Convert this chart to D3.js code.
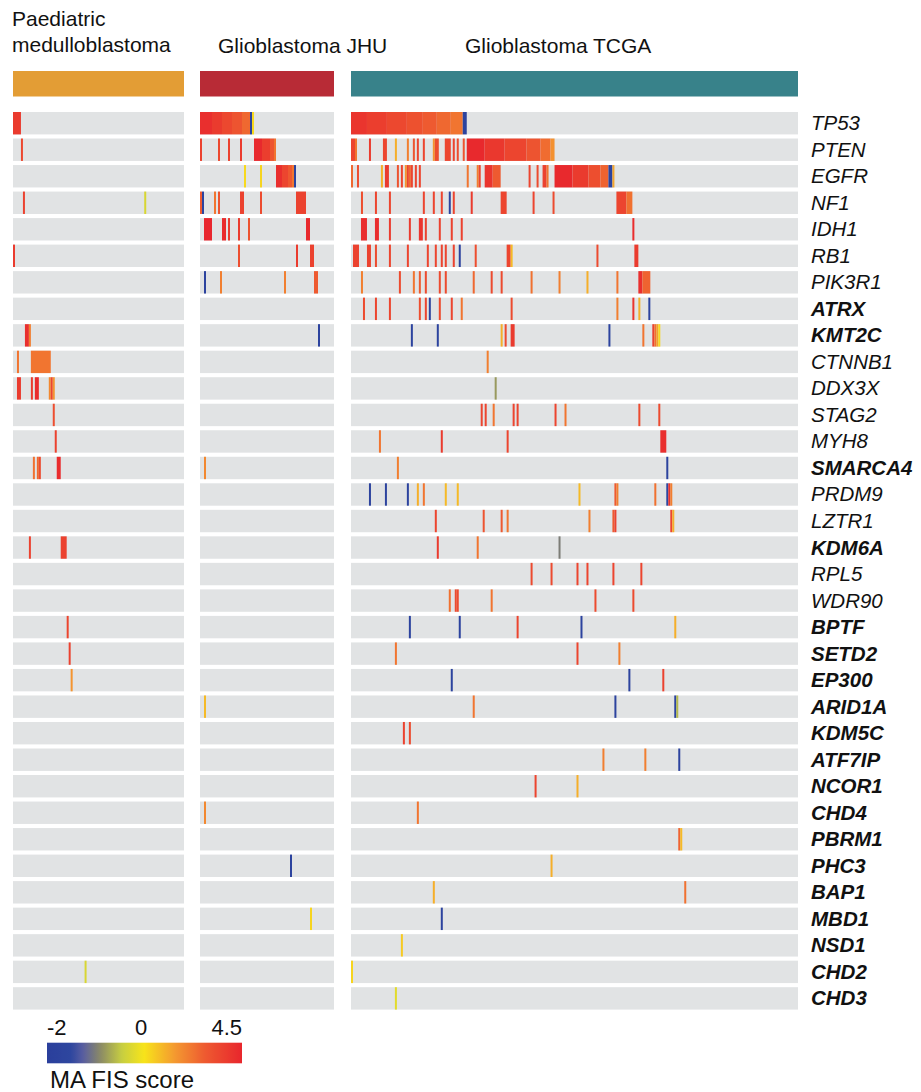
<!DOCTYPE html>
<html><head><meta charset="utf-8">
<script src="https://cdn.jsdelivr.net/npm/d3@7"></script>
<style>body{margin:0;background:#fff;} text{font-family:"Liberation Sans",Arial,Helvetica,sans-serif;}</style>
</head><body>
<svg id="chart" width="921" height="1092"></svg>
<script>
// ---------------- DATA ----------------
const genes = ["TP53","PTEN","EGFR","NF1","IDH1","RB1","PIK3R1","ATRX","KMT2C","CTNNB1","DDX3X","STAG2","MYH8","SMARCA4","PRDM9","LZTR1","KDM6A","RPL5","WDR90","BPTF","SETD2","EP300","ARID1A","KDM5C","ATF7IP","NCOR1","CHD4","PBRM1","PHC3","BAP1","MBD1","NSD1","CHD2","CHD3"];
const chromatinGenes = ["ATRX","KMT2C","SMARCA4","KDM6A","BPTF","SETD2","EP300","ARID1A","KDM5C","ATF7IP","NCOR1","CHD4","PBRM1","PHC3","BAP1","MBD1","NSD1","CHD2","CHD3"];
const cohortNames = ["Paediatric medulloblastoma","Glioblastoma JHU","Glioblastoma TCGA"];
const cohortSamples = [86, 67, 224];
const legendTicks = [-2, 0, 4.5];
const legendTitle = "MA FIS score";

// marks per gene: [firstSample, lastSample, MA FIS score]
const paedMarks = [
  [[0,3,3.8]], [[4,4,3.4]], [], [[5,5,3.6],[66,66,-0.3]], [], [[0,0,3.8]], [], [],
  [[6,7,4.2],[8,8,2.0]],
  [[2,2,2.2],[9,18,2.2]],
  [[2,3,3.8],[9,9,3.8],[11,12,4.3],[18,18,1.8],[19,19,3.5],[20,20,1.5]],
  [[20,20,3.2]], [[21,21,3.6]],
  [[10,10,2.3],[12,12,2.5],[13,13,3.3],[22,23,4.3]],
  [], [], [[8,8,3.6],[24,26,3.6]], [], [],
  [[27,27,3.5]], [[28,28,3.6]], [[29,29,1.5]],
  [], [], [], [], [], [], [], [], [], [],
  [[36,36,-0.3]], []
];
const jhuMarks = [
  [[0,5,4.2],[6,10,3.8],[11,15,3.4],[16,20,3.0],[21,24,2.5],[25,25,-1.7],[26,26,0.2]],
  [[0,0,3.6],[9,9,3.4],[14,14,3.6],[20,20,3.8],[27,30,4.4],[31,34,3.7],[35,36,3.0],[37,37,2.2]],
  [[22,22,0.2],[30,30,0.3],[38,40,4.2],[41,43,3.5],[44,45,2.9],[46,46,2.2],[47,47,-1.7]],
  [[0,0,2.8],[1,1,-1.7],[7,7,2.2],[9,9,3.0],[20,21,3.6],[30,30,3.3],[48,52,3.6]],
  [[2,5,4.5],[11,12,4.3],[14,14,3.8],[19,19,3.8],[24,24,3.0],[53,54,4.4]],
  [[19,19,3.2],[48,48,3.8],[55,56,3.6]],
  [[2,2,-1.7],[10,10,2.0],[42,42,2.0],[57,58,2.8]],
  [], [[59,59,-1.7]], [], [], [], [], [[2,2,1.8]],
  [], [], [], [], [], [], [], [],
  [[2,2,0.8]], [], [], [], [[2,2,1.8]], [], [[45,45,-1.7]], [], [[55,55,0.3]], [], [], []
];
const tcgaMarks = [
  [[0,7,4.0],[8,17,3.7],[18,27,3.4],[28,35,3.1],[36,42,2.8],[43,49,2.5],[50,55,2.2],[56,57,-1.7]],
  [[0,1,3.5],[2,2,2.2],[9,9,3.8],[16,17,3.5],[22,22,1.0],[28,28,2.0],[31,31,3.0],[33,33,3.5],[36,36,3.5],[41,41,1.5],[42,43,3.2],[47,49,3.5],[51,51,3.5],[53,53,3.2],[56,56,3.0],[58,66,4.4],[67,76,3.9],[77,87,3.5],[88,94,3.0],[95,99,2.4],[100,101,1.6]],
  [[0,0,2.5],[3,3,3.2],[15,15,1.0],[17,18,3.8],[23,23,3.0],[25,25,3.5],[27,27,1.5],[28,28,3.5],[29,29,2.5],[30,30,3.5],[32,32,3.5],[34,34,3.5],[58,58,2.2],[63,63,2.0],[64,64,3.5],[67,70,4.0],[71,74,2.8],[89,89,3.5],[93,93,3.3],[96,97,3.6],[98,98,2.2],[102,110,4.4],[111,118,3.8],[119,124,3.2],[125,128,2.6],[129,130,-1.7],[131,131,1.2]],
  [[5,5,3.2],[12,12,3.5],[19,19,3.5],[36,36,3.5],[41,41,3.5],[45,45,3.5],[49,49,-1.7],[51,51,3.5],[60,60,3.8],[75,77,3.5],[91,91,3.5],[101,101,3.3],[133,137,3.5],[138,140,2.3]],
  [[5,7,4.3],[12,13,4.3],[19,19,3.8],[29,29,3.8],[34,35,4.0],[37,37,3.6],[44,44,3.6],[50,50,3.6],[55,55,3.6],[141,141,4.3]],
  [[1,3,3.6],[8,9,3.6],[12,12,3.3],[19,19,3.5],[28,28,3.5],[38,38,3.5],[42,42,3.5],[45,45,3.5],[47,47,3.5],[51,51,3.6],[54,54,-1.7],[62,62,3.2],[78,79,3.5],[80,80,0.8],[123,123,3.3],[142,143,3.8]],
  [[5,5,2.0],[24,24,3.3],[31,31,2.2],[34,34,2.8],[37,37,3.3],[44,44,3.3],[47,47,3.3],[61,61,2.5],[70,70,3.3],[75,75,3.3],[90,90,2.3],[104,104,2.0],[118,118,1.0],[133,133,2.2],[144,145,4.2],[146,149,2.6]],
  [[6,6,3.3],[12,12,3.5],[19,19,3.5],[34,34,3.2],[37,37,3.5],[39,39,-1.7],[44,44,3.3],[50,50,3.5],[55,55,2.2],[80,80,3.3],[133,133,2.0],[141,141,4.0],[144,144,1.0],[149,149,-1.7]],
  [[30,30,-1.7],[43,43,-1.7],[75,75,1.0],[77,77,3.3],[80,81,3.8],[129,129,-1.7],[146,146,2.2],[151,151,3.6],[152,152,2.3],[153,153,1.3],[154,154,0.2]],
  [[68,68,2.0]],
  [[72,72,-0.8]],
  [[65,65,3.5],[67,67,3.5],[71,71,2.2],[81,81,3.5],[83,83,3.5],[102,102,3.5],[107,107,2.2],[144,144,3.3],[154,154,3.3]],
  [[14,14,2.2],[45,45,3.8],[78,78,3.5],[155,157,4.2]],
  [[23,23,2.0],[158,158,-1.7]],
  [[9,9,-1.7],[17,17,-1.7],[28,28,-1.7],[33,33,1.0],[36,36,2.2],[47,47,0.8],[53,53,0.8],[114,114,0.8],[132,132,2.8],[133,133,2.0],[152,152,2.3],[158,158,-1.5],[159,159,4.0],[160,160,2.0]],
  [[42,42,3.5],[66,66,3.0],[75,75,2.8],[78,78,2.2],[119,119,2.0],[131,131,2.8],[132,132,3.6],[160,160,3.5],[161,161,1.0]],
  [[43,43,3.8],[63,63,2.2],[104,104,-1.0]],
  [[90,90,3.3],[100,100,3.3],[113,113,3.5],[118,118,3.5],[131,131,3.5],[145,145,3.5]],
  [[49,49,2.3],[52,52,3.3],[53,53,3.3],[70,70,2.2],[122,122,3.3],[141,141,3.3]],
  [[29,29,-1.7],[54,54,-1.7],[83,83,3.5],[115,115,-1.7],[162,162,1.0]],
  [[22,22,2.2],[113,113,3.5],[134,134,2.0]],
  [[50,50,-1.7],[139,139,-1.7],[156,156,3.6]],
  [[61,61,2.2],[132,132,-1.7],[162,162,-1.7],[163,163,-0.6]],
  [[26,26,3.6],[29,29,3.3]],
  [[126,126,2.0],[147,147,2.0],[164,164,-1.7]],
  [[92,92,3.5],[113,113,1.0]],
  [[33,33,2.2]],
  [[164,164,2.6],[165,165,0.8]],
  [[100,100,1.0]],
  [[41,41,1.0],[167,167,2.3]],
  [[45,45,-1.7]],
  [[25,25,0.5]],
  [[0,0,0.3]],
  [[22,22,-0.2]]
];
const cohortMarks = [paedMarks, jhuMarks, tcgaMarks];

// ---------------- LAYOUT ----------------
const svg = d3.select("#chart");
const panelRanges = [[13,184],[200,334],[351,798]];
const cohortColors = ["#e39d35","#b82b36","#38828a"];
const rowColor = "#e1e3e4";

const y = d3.scaleBand().domain(genes).range([112, 1009.6]).paddingInner(0.155).paddingOuter(0);

const color = d3.scaleLinear()
  .domain([-2,-1.5,-1.25,-0.9,-0.45,0,1.4,2.8,4.5])
  .range(["#2a3f9c","#2e469f","#5a5ea0","#8a8a66","#c8cf40","#f7e41a","#f49a30","#ee5a30","#e8262d"])
  .clamp(true);

// headers
const hdr = svg.append("g").attr("font-size", 21).attr("fill", "#111");
hdr.append("text").attr("x", 12).attr("y", 26).text("Paediatric");
hdr.append("text").attr("x", 12).attr("y", 52).text("medulloblastoma");
hdr.append("text").attr("x", 218).attr("y", 53).text(cohortNames[1]);
hdr.append("text").attr("x", 465).attr("y", 53).text(cohortNames[2]);

cohortNames.forEach((name, ci) => {
  const [x0, x1] = panelRanges[ci];
  const x = d3.scaleLinear().domain([0, cohortSamples[ci]]).range([x0, x1]);
  const g = svg.append("g");
  g.append("rect").attr("x", x(0)).attr("width", x(cohortSamples[ci]) - x(0))
    .attr("y", 71).attr("height", 25.5).attr("fill", cohortColors[ci]);
  g.selectAll("rect.row").data(genes).join("rect").attr("class","row")
    .attr("x", x(0)).attr("width", x(cohortSamples[ci]) - x(0))
    .attr("y", d => y(d)).attr("height", y.bandwidth()).attr("fill", rowColor);
  const flat = [];
  cohortMarks[ci].forEach((list, gi) => list.forEach(m => flat.push({gene: genes[gi], s0: m[0], s1: m[1], v: m[2]})));
  g.selectAll("rect.mark").data(flat).join("rect").attr("class","mark")
    .attr("x", d => x(d.s0)).attr("width", d => x(d.s1 + 1) - x(d.s0))
    .attr("y", d => y(d.gene)).attr("height", y.bandwidth())
    .attr("fill", d => color(d.v));
});

// gene labels
svg.append("g").selectAll("text").data(genes).join("text")
  .attr("x", 811).attr("y", d => y(d) + y.bandwidth()/2 + 7)
  .attr("font-size", 20.5).attr("font-style", "italic")
  .attr("font-weight", d => chromatinGenes.includes(d) ? "bold" : "normal")
  .attr("fill", "#111").text(d => d);

// legend
const lx = d3.scaleLinear().domain([-2, 0, 4.5]).range([47, 144, 242]);
const defs = svg.append("defs");
const grad = defs.append("linearGradient").attr("id","lg").attr("x1","0%").attr("x2","100%");
d3.range(0, 1.0001, 0.02).forEach(t => {
  const px = 47 + t * (242 - 47);
  grad.append("stop").attr("offset", (t*100)+"%").attr("stop-color", color(lx.invert(px)));
});
svg.append("rect").attr("x", lx(-2)).attr("width", lx(4.5) - lx(-2)).attr("y", 1042.7).attr("height", 20.6).attr("fill","url(#lg)");
svg.append("g").selectAll("text").data(legendTicks).join("text")
  .attr("x", d => lx(d) + (d === 0 ? -3 : 0)).attr("y", 1035)
  .attr("text-anchor", (d, i) => i === 0 ? "start" : (i === legendTicks.length - 1 ? "end" : "middle"))
  .attr("font-size", 22).attr("fill","#111").text(d => d === -2 ? "-2" : d);
svg.append("text").attr("x", 50).attr("y", 1088).attr("font-size", 24).attr("fill","#111").text(legendTitle);
</script>
</body></html>
